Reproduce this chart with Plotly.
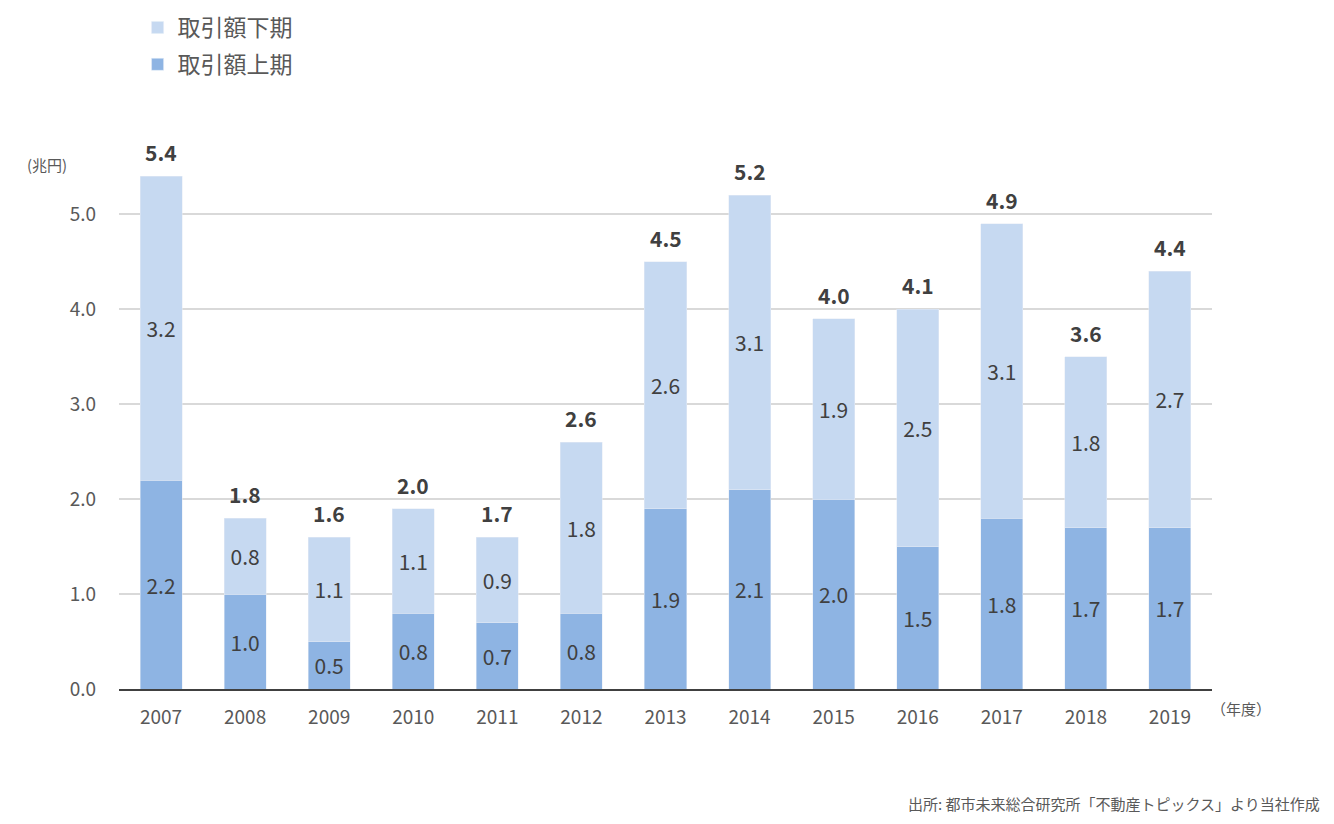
import plotly.graph_objects as go

years = ["2007", "2008", "2009", "2010", "2011", "2012", "2013",
         "2014", "2015", "2016", "2017", "2018", "2019"]
first_half = [2.2, 1.0, 0.5, 0.8, 0.7, 0.8, 1.9, 2.1, 2.0, 1.5, 1.8, 1.7, 1.7]
second_half = [3.2, 0.8, 1.1, 1.1, 0.9, 1.8, 2.6, 3.1, 1.9, 2.5, 3.1, 1.8, 2.7]
total_labels = ["5.4", "1.8", "1.6", "2.0", "1.7", "2.6", "4.5",
                "5.2", "4.0", "4.1", "4.9", "3.6", "4.4"]

FONT = "Noto Sans CJK JP"
LIGHT = "#C6D9F1"
DARK = "#8EB4E3"
TXT = "#404040"
GREY = "#595959"

tops = [a + b for a, b in zip(first_half, second_half)]

fig = go.Figure()
fig.add_trace(go.Bar(
    x=years, y=first_half, name="取引額上期", marker_color=DARK,
    legendgroup="a", legendrank=2,
    text=[f"{v:.1f}" for v in first_half], textposition="inside",
    insidetextanchor="middle", constraintext="none",
    textfont=dict(family=FONT, size=21, color=TXT),
    hoverinfo="skip",
))
fig.add_trace(go.Bar(
    x=years, y=second_half, name="取引額下期", marker_color=LIGHT,
    legendgroup="b", legendrank=1,
    text=[f"{v:.1f}" for v in second_half], textposition="inside",
    insidetextanchor="middle", constraintext="none",
    textfont=dict(family=FONT, size=21, color=TXT),
    hoverinfo="skip",
))

annotations = [
    dict(x=i, y=t, text=lab, xref="x", yref="y", showarrow=False,
         yanchor="bottom", yshift=7,
         font=dict(family=FONT, size=21, color=TXT, weight="bold"))
    for i, (t, lab) in enumerate(zip(tops, total_labels))
]
annotations += [
    dict(text="(兆円)", xref="paper", yref="paper", x=-0.086, y=0.951,
         xanchor="left", yanchor="middle", showarrow=False,
         font=dict(family=FONT, size=15, color=GREY)),
    dict(text="（年度）", xref="paper", yref="paper", x=0.997, y=-0.0345,
         xanchor="left", yanchor="middle", showarrow=False,
         font=dict(family=FONT, size=15, color=GREY)),
    dict(text="出所: 都市未来総合研究所「不動産トピックス」より当社作成",
         xref="paper", yref="paper", x=1.1006, y=-0.207,
         xanchor="right", yanchor="middle", showarrow=False,
         font=dict(family=FONT, size=15, color=GREY)),
]

fig.update_layout(
    width=1334, height=824,
    barmode="stack", bargap=0.5,
    plot_bgcolor="white", paper_bgcolor="white",
    margin=dict(l=111, r=130, t=130, b=143, autoexpand=False),
    font=dict(family=FONT, color=GREY),
    legend=dict(
        x=0.017, xanchor="left", y=1.2396, yref="paper", yanchor="top",
        traceorder="grouped", tracegroupgap=4,
        font=dict(family=FONT, size=23, color=GREY),
        itemwidth=30,
    ),
    xaxis=dict(
        type="category", showgrid=False, showline=True, linecolor="#404040",
        linewidth=2, ticks="", tickfont=dict(family=FONT, size=19, color=GREY),
        ticklabelstandoff=10,
    ),
    yaxis=dict(
        range=[0, 5.8], dtick=1, tickformat=".1f", showgrid=True,
        gridcolor="#D9D9D9", gridwidth=1.5, zeroline=False, ticks="",
        tickfont=dict(family=FONT, size=19, color=GREY),
        ticklabelstandoff=22,
    ),
    annotations=annotations,
)

fig.write_html("out.html")
